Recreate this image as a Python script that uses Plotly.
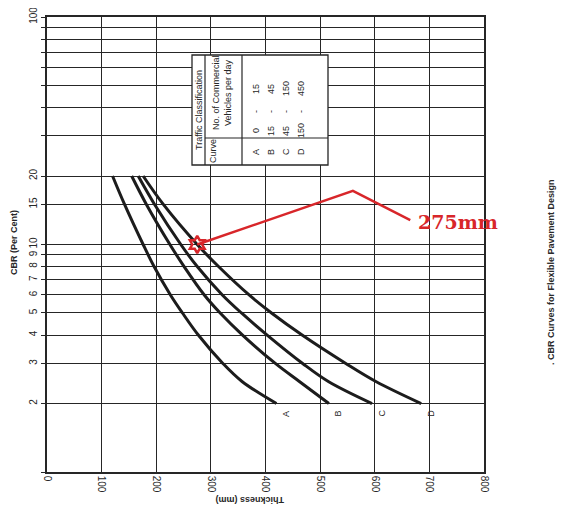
import plotly.graph_objects as go

# ---------------- data ----------------
cbr_levels = [20, 15, 10, 8, 6, 5, 4, 3, 2.5, 2]
thick_A = [120, 142, 176, 196, 226, 248, 277, 322, 357, 420]
thick_B = [155, 182, 225, 251, 288, 317, 358, 418, 462, 516]
thick_C = [167, 197, 245, 275, 321, 356, 403, 468, 515, 595]
thick_D = [176, 213, 275, 314, 370, 411, 467, 547, 602, 685]
curve_names = ["A", "B", "C", "D"]

x_ticks = [0, 100, 200, 300, 400, 500, 600, 700, 800]
y_grid = [1, 2, 3, 4, 5, 6, 7, 8, 9, 10, 15, 20, 30, 40, 50, 60, 70, 80, 90, 100]
y_text = ["", "2", "3", "4", "5", "6", "7", "8", "9", "10", "15", "20",
          "", "", "", "", "", "", "", "100"]

table_curves = ["A", "B", "C", "D"]
table_low = ["0", "15", "45", "150"]
table_high = ["15", "45", "150", "450"]

marker_thick = [275]
marker_cbr = [10]
pointer_thick = [275, 560, 665]
pointer_cbr = [10, 17.2, 12.8]
pointer_label = "275mm"

# ---------------- figure ----------------
OFF = 8  # page body margin in the browser
W, H = 565 - OFF, 506 - OFF
ML, MT = 47 - OFF, 17 - OFF
PW, PH = 437, 455
MR, MB = W - ML - PW, H - MT - PH


def px(x):
    return (x - OFF - ML) / PW


def py(y):
    return (MT + PH - (y - OFF)) / PH


INK = "#262626"
RED = "#d8262a"

fig = go.Figure()

for name, th in zip(curve_names, [thick_A, thick_B, thick_C, thick_D]):
    fig.add_trace(go.Scatter(
        x=th, y=cbr_levels, mode="lines", name=name,
        line=dict(color="#1c1c1c", width=3, shape="spline", smoothing=1.0),
        hoverinfo="skip", showlegend=False))
    fig.add_annotation(x=th[-1], y=0.301, text=name, textangle=-90,
                       showarrow=False, xshift=9, yshift=-10,
                       font=dict(family="Liberation Sans", size=9, color=INK))

# red pointer
fig.add_trace(go.Scatter(x=pointer_thick, y=pointer_cbr, mode="lines",
                         line=dict(color=RED, width=2.5), hoverinfo="skip",
                         showlegend=False))
fig.add_trace(go.Scatter(x=marker_thick, y=marker_cbr, mode="markers",
                         marker=dict(symbol="hexagram-open", size=13,
                                     color=RED, line=dict(color=RED, width=2.5)),
                         hoverinfo="skip", showlegend=False))
fig.add_annotation(x=pointer_thick[-1], y=1.1, text="<b>" + pointer_label + "</b>",
                   xanchor="left", xshift=6, showarrow=False,
                   font=dict(family="DejaVu Serif", size=19, color=RED))

# ---------------- inset table ----------------
shapes = []
tl, tr, tt, tb = 192, 328, 55, 165
shapes.append(dict(type="rect", xref="paper", yref="paper",
                   x0=px(tl), x1=px(tr), y0=py(tb), y1=py(tt),
                   fillcolor="white", line=dict(color=INK, width=1.3)))
for xv in [205, 242]:
    shapes.append(dict(type="line", xref="paper", yref="paper",
                       x0=px(xv), x1=px(xv), y0=py(tb), y1=py(tt),
                       line=dict(color=INK, width=1.2)))
shapes.append(dict(type="line", xref="paper", yref="paper",
                   x0=px(205), x1=px(tr), y0=py(138), y1=py(138),
                   line=dict(color=INK, width=1.2)))

tfont = dict(family="Liberation Sans", size=9, color=INK)


def tann(x, y, text, font=tfont, angle=-90):
    fig.add_annotation(xref="paper", yref="paper", x=px(x), y=py(y), text=text,
                       textangle=angle, showarrow=False, font=font,
                       xanchor="center", yanchor="middle")


tann(199, 110, "Traffic Classification")
tann(213, 151, "Curve")
tann(216, 93, "No. of Commercial")
tann(228, 93, "Vehicles per day")
for i, (c, lo, hi) in enumerate(zip(table_curves, table_low, table_high)):
    xr = 256 + 15 * i
    tann(xr, 152, c)
    tann(xr, 131, lo)
    tann(xr, 112, "-")
    tann(xr, 89, hi)

# ---------------- axis titles / caption ----------------
tann(14, 243, "<b>CBR (Per Cent)</b>",
     font=dict(family="Liberation Sans", size=9, color=INK))
tann(250, 500, "<b>Thickness (mm)</b>",
     font=dict(family="Liberation Sans", size=9, color=INK), angle=180)
tann(551, 272, "<b>. CBR Curves for Flexible Pavement Design</b>",
     font=dict(family="Liberation Sans", size=9, color="#2a2a2a"))

fig.update_layout(
    width=W, height=H,
    margin=dict(l=ML, r=MR, t=MT, b=MB, autoexpand=False),
    paper_bgcolor="white", plot_bgcolor="white",
    shapes=shapes, showlegend=False,
    xaxis=dict(range=[0, 800], tickvals=x_ticks, ticktext=[str(v) for v in x_ticks],
               tickangle=90, showgrid=True, gridcolor=INK, gridwidth=1.2,
               showline=True, linecolor=INK, linewidth=1.5, mirror=True,
               ticks="", zeroline=False, automargin=False,
               ticklabeloverflow="allow",
               tickfont=dict(family="Liberation Sans", size=10, color=INK)),
    yaxis=dict(type="log", range=[0, 2], tickvals=y_grid, ticktext=y_text,
               tickangle=-90, showgrid=True, gridcolor=INK, gridwidth=1.2,
               showline=True, linecolor=INK, linewidth=1.5, mirror=True,
               ticks="outside", ticklen=4, tickcolor=INK, zeroline=False,
               automargin=False, ticklabeloverflow="allow",
               tickfont=dict(family="Liberation Sans", size=10, color=INK)),
)

fig.write_html("out.html")
